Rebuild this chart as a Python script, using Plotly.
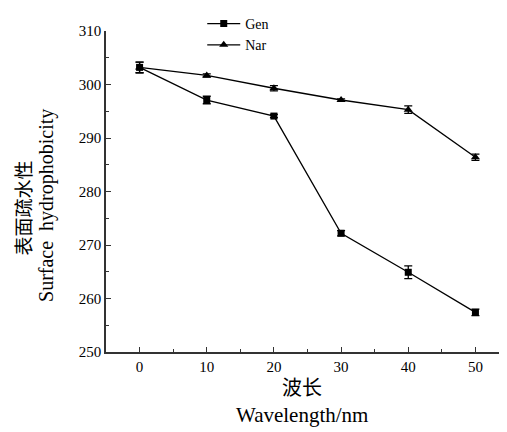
import plotly.graph_objects as go

wavelength = [0, 10, 20, 30, 40, 50]
gen_values = [303.2, 297.1, 294.1, 272.2, 264.9, 257.4]
gen_err = [1.0, 0.7, 0.3, 0.5, 1.2, 0.6]
nar_values = [303.2, 301.7, 299.3, 297.1, 295.3, 286.4]
nar_err = [1.0, 0.3, 0.5, 0.2, 0.7, 0.6]
x_ticks = [0, 10, 20, 30, 40, 50]
y_ticks = [250, 260, 270, 280, 290, 300, 310]

FONT = "Liberation Serif"
CJK = "Noto Sans CJK SC"

fig = go.Figure()
fig.add_trace(go.Scatter(
    x=wavelength, y=gen_values, name="Gen", mode="lines+markers",
    line=dict(color="black", width=1.3),
    marker=dict(symbol="square", size=7, color="black"),
    error_y=dict(type="data", array=gen_err, visible=True, color="black", thickness=1.3, width=4),
))
fig.add_trace(go.Scatter(
    x=wavelength, y=nar_values, name="Nar", mode="lines+markers",
    line=dict(color="black", width=1.3),
    marker=dict(symbol="triangle-up", size=8, color="black"),
    error_y=dict(type="data", array=nar_err, visible=True, color="black", thickness=1.3, width=4),
))

# page body has an 8px margin, so the figure is sized 8px smaller
fig.update_layout(
    width=499, height=424,
    margin=dict(l=98, r=0, t=19, b=80),
    paper_bgcolor="white", plot_bgcolor="white",
    font=dict(family=FONT, color="black", size=15),
    showlegend=True,
    legend=dict(x=0.24, y=1.072, xanchor="left", yanchor="top",
                font=dict(family=FONT, size=14), bgcolor="rgba(0,0,0,0)",
                tracegroupgap=0, itemwidth=33),
    xaxis=dict(range=[-5, 54.7], tickvals=x_ticks, ticks="inside", ticklen=5,
               tickwidth=1.3, tickcolor="#333", showline=True, linecolor="#333",
               linewidth=1.5, showgrid=False, zeroline=False,
               minor=dict(tickvals=[-5, 5, 15, 25, 35, 45], ticks="inside", ticklen=3,
                          tickcolor="#333", tickwidth=1.2),
               tickfont=dict(family=FONT, size=15)),
    yaxis=dict(range=[250, 310], tickvals=y_ticks, ticks="inside", ticklen=5,
               tickwidth=1.3, tickcolor="#333", showline=True, linecolor="#333",
               linewidth=1.5, showgrid=False, zeroline=False,
               minor=dict(tickvals=[255, 265, 275, 285, 295, 305], ticks="inside", ticklen=3,
                          tickcolor="#333", tickwidth=1.2),
               tickfont=dict(family=FONT, size=15)),
)

fig.add_annotation(text="表面疏水性", xref="paper", yref="paper", x=-0.207, y=0.45,
                   textangle=-90, showarrow=False, font=dict(family=CJK, size=19),
                   xanchor="center", yanchor="middle")
fig.add_annotation(text="Surface  hydrophobicity", xref="paper", yref="paper", x=-0.147, y=0.455,
                   textangle=-90, showarrow=False, font=dict(family=FONT, size=20),
                   xanchor="center", yanchor="middle")
fig.add_annotation(text="波长", xref="paper", yref="paper", x=0.49, y=-0.108,
                   showarrow=False, font=dict(family=CJK, size=20), xanchor="center", yanchor="middle")
fig.add_annotation(text="Wavelength/nm", xref="paper", yref="paper", x=0.49, y=-0.197,
                   showarrow=False, font=dict(family=FONT, size=21), xanchor="center", yanchor="middle")

fig.write_html("out.html")
